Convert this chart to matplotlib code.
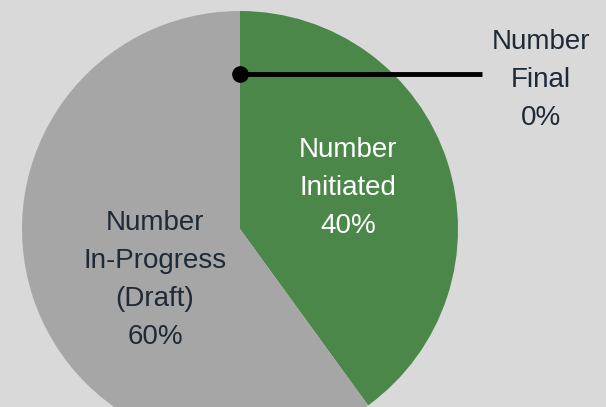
import matplotlib.pyplot as plt

# data
categories = ["Number\nFinal", "Number\nInitiated", "Number\nIn-Progress\n(Draft)"]
shares = [0, 40, 60]
colors = ["#4b8749", "#4b8749", "#a6a6a6"]
text_colors = ["#1f2a36", "#ffffff", "#1f2a36"]

W, H = 606, 407
fig = plt.figure(figsize=(W / 100, H / 100), dpi=100)
fig.patch.set_facecolor("#d9d9d9")
ax = fig.add_axes([0, 0, 1, 1])

cx, cy, r = 240, H - 229, 218
ax.pie(shares, colors=colors, startangle=90, counterclock=False,
       center=(cx, cy), radius=r, frame=True,
       wedgeprops=dict(linewidth=0))
ax.set_xlim(0, W)
ax.set_ylim(0, H)
ax.set_aspect("equal")
ax.axis("off")

font = dict(family=["Liberation Sans", "DejaVu Sans"], fontsize=20,
            ha="center", va="center", linespacing=1.6)

# label positions (pixels, top-left origin)
label_pos = [(541, 80), (348, 188), (155, 280)]
for cat, val, tc, (x, y) in zip(categories, shares, text_colors, label_pos):
    ax.text(x, H - y, f"{cat}\n{val}%", color=tc, **font)

# leader line for the empty slice
ax.plot([cx, 482], [H - 74, H - 74], color="black", lw=3.5, solid_capstyle="butt")
ax.plot(cx, H - 74, "o", color="black", markersize=11)

fig.savefig("out.png", dpi=100, facecolor=fig.get_facecolor())
